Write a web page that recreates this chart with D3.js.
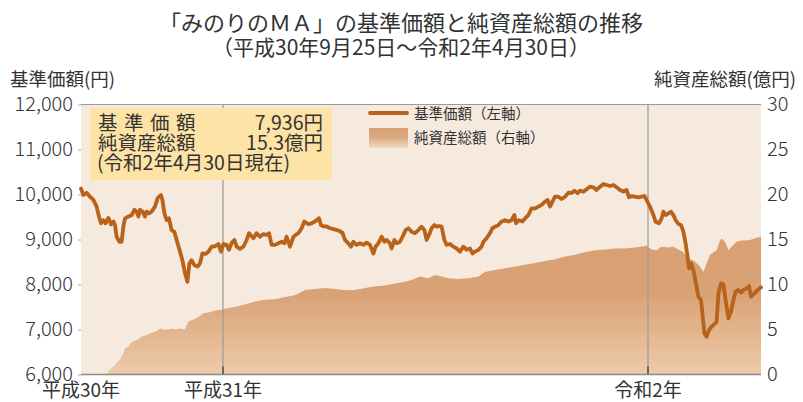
<!DOCTYPE html>
<html><head><meta charset="utf-8">
<script src="https://cdn.jsdelivr.net/npm/d3@7"></script>
<style>
html,body{margin:0;padding:0;background:#fff;}
svg{display:block;font-family:"Noto Sans CJK JP","Noto Sans",sans-serif;}
</style></head>
<body><svg id="c" width="803" height="402"></svg>
<script>
// ---- data (x = trading-day index from 2018-09-25) ----
const navDay = [0,1.2,2.8,4.5,6.2,7.8,9,10,11.2,12.3,13.7,15,16.2,17,17.8,19.2,20.3,21.2,22,23.7,25.3,26.7,27.8,28.7,29.5,30.8,32,32.8,34,35.3,37,38.3,40,40.7,41.7,42.8,44,45.3,46.7,47.8,49.5,50.7,52,53.2,54.2,55.3,56.7,58.3,59.5,60.7,62.3,63.7,65.3,67,68.7,70,71.2,72.8,74,75.3,76.7,77.8,79.5,81.2,82.8,84,86.2,87.8,89.5,91.2,92.8,94,95.3,97,98.7,100.3,101.7,102.8,104.5,106.2,107.3,108.7,110.3,111.7,113.7,115.3,117,119,120,121.2,122.8,124.5,126.2,128.7,130.7,132,133.7,135,136.2,137.8,139.5,141.2,142.8,144.5,146.2,147.3,148.7,150.3,151.7,152.8,154.5,155.3,156.7,157.8,159.5,161.2,162.3,163.7,165.3,167,168.7,170.3,171.7,172.8,174,175.3,176.7,177.8,179,180.3,181.7,182.8,184.5,186.2,187.8,189.5,191.2,192.8,194.5,195.7,197,198.7,200.3,201.2,202.8,204.5,205.7,207,208.7,210.3,212,213.7,215.3,216.7,217.5,219,220.7,222,223.7,225.3,227,228.7,230.3,232,233.3,234.5,235.7,237,238.7,240.3,242,243.7,245.3,246.7,248.3,249.5,251.2,252.8,254.5,256.2,257.8,259.5,261.2,262.8,264.5,266.2,267.8,269.5,271.2,272.8,274,275.3,277,278.7,280.3,281.7,282.8,284.5,286.2,287.3,289,290.3,291.2,292.3,293.7,295,296.2,297.3,298.7,300,301.2,302.3,303.3,304,305,306.2,307.3,308.7,310,310.7,311.7,312.8,314,315.3,316.7,317.8,318.7,320,321.2,322.3,323.7,325,326.2,327.3,328.7,330,331.2,332.8,334,335,336.7,338.3,340];
const navValue = [10130,9990,10040,9950,9880,9730,9510,9360,9430,9360,9480,9340,9400,9320,9060,8950,8950,9290,9470,9510,9540,9660,9620,9510,9660,9620,9510,9620,9580,9620,9730,9920,9990,9880,9580,9430,9470,9210,9170,8990,8730,8540,8250,8060,8470,8540,8430,8400,8470,8690,8680,8730,8840,8850,8900,8730,8900,8880,8770,8920,8990,8840,8790,8840,8990,9140,9030,9140,9060,9120,9100,9140,8880,8880,8915,8950,8915,9060,8840,9060,9100,9140,9250,9400,9340,9360,9400,9470,9320,9290,9290,9250,9230,9200,9150,8990,8915,8840,8950,8880,8915,8880,8930,8880,8690,8840,8915,9060,8950,8990,8915,8800,8990,8915,8950,9100,9210,9250,9170,9140,9210,9285,9210,8990,9100,9250,9320,9285,9300,9285,8990,8880,8900,8840,8800,8730,8840,8770,8800,8690,8730,8770,8840,8950,9030,9140,9250,9285,9320,9400,9430,9400,9430,9544,9360,9430,9400,9470,9544,9690,9690,9730,9770,9840,9880,9730,9840,9950,9950,9900,9950,10040,10030,10085,10030,10085,10060,10115,10174,10160,10100,10174,10233,10211,10189,10211,10160,10100,10063,10100,9937,9966,9952,9937,9952,9966,9878,9729,9544,9396,9360,9470,9618,9544,9582,9618,9544,9433,9344,9322,9174,8915,8618,8359,8470,8322,8063,7729,7656,7359,6915,6840,6989,7063,7118,7174,7804,8026,8000,7656,7248,7396,7656,7840,7878,7820,7878,7915,7965,7729,7804,7878,7936];
const assetDay = [0,12.8,13.7,16.2,17.8,19.5,21.2,22,23.7,25.3,27.8,30.3,32.8,35.3,37.8,39.5,41.2,43.7,45.3,47,49.5,52,53.7,56.2,58.7,61.2,63.7,67,70.3,73.7,77,80.3,83.7,87,92,97,102,107,112,117,122,127,132,137,142,147,152,157,162,165.3,169.5,173.7,177,180.3,183.7,188.7,193.7,198.7,202,207,212,217,222,227,232,237,242,247,250.3,254.5,257,262,267,272,277,282.8,285.3,287.8,290.3,293.7,296.2,298.7,301.2,302.8,304.5,306.2,307.8,309.5,311.2,314.5,317.8,319.5,320.3,322,323.7,325.3,327.8,330.3,332.8,335.3,337.8,340];
const assetValue = [0,0,0.4,0.9,1.3,1.6,2.4,2.9,3.1,3.6,3.8,4.2,4.4,4.6,4.8,5.1,5.0,5.0,5.1,5.0,5.1,5.0,5.9,6.1,6.4,6.8,6.9,7.1,7.2,7.4,7.5,7.7,7.9,8.1,8.3,8.35,8.6,8.8,9.4,9.5,9.6,9.5,9.35,9.4,9.6,9.8,9.9,10.1,10.3,10.5,10.9,10.7,11.05,10.9,10.7,10.6,10.7,10.9,11.4,11.6,11.8,12.0,12.2,12.4,12.6,12.8,13.1,13.3,13.5,13.7,13.8,13.9,14.0,14.0,14.1,14.3,13.9,13.8,14.2,14.1,14.2,13.9,13.6,13.1,12.8,12.7,12.35,12.0,11.4,13.3,13.8,14.9,15.1,14.75,13.8,14.2,14.75,14.9,14.9,15.0,15.2,15.3];
const leftTicks = [6000,7000,8000,9000,10000,11000,12000];
const rightTicks = [0,5,10,15,20,25,30];
const yearLabels = ["平成30年","平成31年","令和2年"];
const yearDay = [0,71,283.5];
const dividerDay = [71,283.5];
const titleText = "「みのりのＭＡ」の基準価額と純資産総額の推移";
const subtitleText = "（平成30年9月25日～令和2年4月30日）";
const infoLabels = ["基準価額","純資産総額"];
const infoValues = ["7,936円","15.3億円"];
const infoNote = "(令和2年4月30日現在)";
const legendLabels = ["基準価額（左軸）","純資産総額（右軸）"];

const svg = d3.select("#c");
const L=81, R=761, T=104.5, B=374.5;
const x = d3.scaleLinear().domain([0,340]).range([L,R]);
const yL = d3.scaleLinear().domain([6000,12000]).range([B,T]);
const yR = d3.scaleLinear().domain([0,30]).range([B,T]);
const txt = "#333";

const defs = svg.append("defs");
const g1 = defs.append("linearGradient").attr("id","ag").attr("gradientUnits","userSpaceOnUse")
  .attr("x1",0).attr("x2",0).attr("y1",yR(15)).attr("y2",yR(0));
g1.append("stop").attr("offset","0").attr("stop-color","#d8a073");
g1.append("stop").attr("offset","0.4").attr("stop-color","#d9a275");
g1.append("stop").attr("offset","1").attr("stop-color","#edcbaa");
const g2 = defs.append("linearGradient").attr("id","lg").attr("x1",0).attr("x2",0).attr("y1",0).attr("y2",1);
g2.append("stop").attr("offset","0").attr("stop-color","#d8a073");
g2.append("stop").attr("offset","0.5").attr("stop-color","#dcab80");
g2.append("stop").attr("offset","1").attr("stop-color","#f2dcc6");

// plot background
svg.append("rect").attr("x",L).attr("y",T).attr("width",R-L).attr("height",B-T).attr("fill","#f6e9dd");

// area
const assets = assetDay.map((d,i)=>({t:d,v:assetValue[i]}));
svg.append("path").datum(assets)
  .attr("d", d3.area().x(d=>x(d.t)).y0(yR(0)).y1(d=>yR(d.v)))
  .attr("fill","url(#ag)");

// year divider lines
svg.selectAll(".div").data(dividerDay).join("line")
  .attr("x1",d=>x(d)).attr("x2",d=>x(d)).attr("y1",T).attr("y2",B)
  .attr("stroke","#9a9a9a").attr("stroke-width",1.2);
svg.selectAll(".divt").data(dividerDay).join("line")
  .attr("x1",d=>x(d)).attr("x2",d=>x(d)).attr("y1",B-8).attr("y2",B)
  .attr("stroke","#333").attr("stroke-width",1.2);

// frame lines
svg.append("line").attr("x1",L).attr("x2",R).attr("y1",T).attr("y2",T).attr("stroke","#9a9a9a").attr("stroke-width",1.2);
svg.append("line").attr("x1",L).attr("x2",R).attr("y1",B).attr("y2",B).attr("stroke","#8a8a8a").attr("stroke-width",1.5);

// nav line
const nav = navDay.map((d,i)=>({t:d,v:navValue[i]}));
svg.append("path").datum(nav)
  .attr("d", d3.line().x(d=>x(d.t)).y(d=>yL(d.v)))
  .attr("fill","none").attr("stroke","#b8621a").attr("stroke-width",3.8)
  .attr("stroke-linejoin","round").attr("stroke-linecap","round");

// axes
const ax = svg.append("g").attr("transform",`translate(${L},0)`)
  .call(d3.axisLeft(yL).tickValues(leftTicks).tickFormat(d3.format(",")).tickSize(3).tickPadding(5));
ax.select(".domain").remove();
ax.selectAll(".tick line").attr("stroke","#aaa");
ax.selectAll("text").attr("font-size",20).attr("fill",txt).attr("font-family","'Noto Sans CJK JP'").attr("font-weight",300);

const ar = svg.append("g").attr("transform",`translate(${R},0)`)
  .call(d3.axisRight(yR).tickValues(rightTicks).tickSize(0).tickPadding(6));
ar.select(".domain").remove();
ar.selectAll("text").attr("font-size",20).attr("fill",txt).attr("font-family","'Noto Sans CJK JP'").attr("font-weight",300);

// x labels
svg.selectAll(".xl").data(yearLabels).join("text")
  .attr("x",(d,i)=>x(yearDay[i])).attr("y",396.5).attr("text-anchor","middle")
  .attr("font-size",19).attr("fill",txt).text(d=>d);

// axis titles
svg.append("text").attr("x",10).attr("y",86).attr("font-size",18.5).attr("fill",txt).text("基準価額(円)");
svg.append("text").attr("x",796).attr("y",86).attr("text-anchor","end").attr("font-size",18.5).attr("fill",txt).text("純資産総額(億円)");

// titles
svg.append("text").attr("x",401).attr("y",31).attr("text-anchor","middle").attr("font-size",22).attr("fill",txt).text(titleText);
svg.append("text").attr("x",401).attr("y",55).attr("text-anchor","middle").attr("font-size",21).attr("fill",txt).text(subtitleText);

// info box
svg.append("rect").attr("x",90).attr("y",108).attr("width",242).attr("height",72).attr("fill","#fde3a6");
const l2 = svg.append("text").attr("x",98).attr("y",149.5).attr("font-size",19.5).attr("fill",txt).text(infoLabels[1]);
const w2 = l2.node().getComputedTextLength();
svg.append("text").attr("x",98).attr("y",129.5).attr("font-size",19.5).attr("fill",txt)
  .attr("textLength",w2).attr("lengthAdjust","spacing").text(infoLabels[0]);
svg.selectAll(".iv").data(infoValues).join("text")
  .attr("x",323).attr("y",(d,i)=>129.5+i*20).attr("text-anchor","end").attr("font-size",19.5).attr("fill",txt).text(d=>d);
svg.append("text").attr("x",97).attr("y",169.5).attr("font-size",19.5).attr("fill",txt).text(infoNote);

// legend
svg.append("line").attr("x1",370).attr("x2",407).attr("y1",113).attr("y2",113).attr("stroke","#b8621a").attr("stroke-width",3.8).attr("stroke-linecap","round");
svg.append("rect").attr("x",369).attr("y",128).attr("width",39).attr("height",20).attr("fill","url(#lg)");
svg.selectAll(".lt").data(legendLabels).join("text")
  .attr("x",414).attr("y",(d,i)=>119+i*24).attr("font-size",14.5).attr("fill",txt).text(d=>d);
</script></body></html>
